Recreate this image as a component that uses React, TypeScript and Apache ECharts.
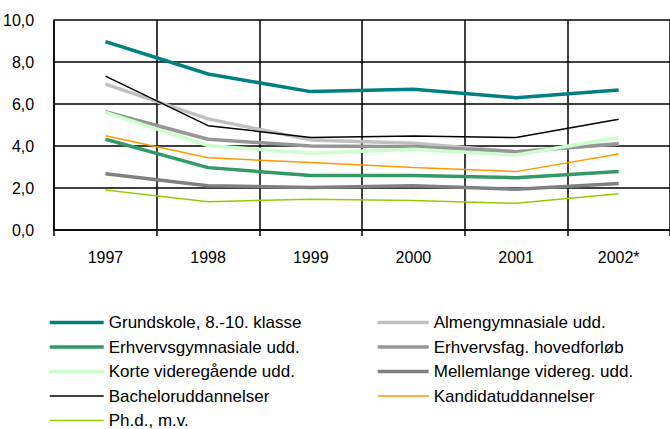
import React, { useEffect, useRef } from "react";
import * as echarts from "echarts";

const years = ["1997", "1998", "1999", "2000", "2001", "2002*"];
const yTicks = [0, 2, 4, 6, 8, 10];

const grundskole = [8.97, 7.43, 6.59, 6.7, 6.3, 6.67];
const almen = [6.95, 5.29, 4.29, 4.13, 3.73, 4.12];
const erhvervsgym = [4.32, 2.97, 2.59, 2.59, 2.49, 2.78];
const erhvervsfag = [5.63, 4.32, 4.0, 3.97, 3.73, 4.1];
const korte = [5.6, 4.02, 3.65, 3.84, 3.57, 4.4];
const mellemlange = [2.68, 2.11, 2.02, 2.11, 1.94, 2.21];
const bachelor = [7.33, 4.97, 4.41, 4.48, 4.4, 5.27];
const kandidat = [4.49, 3.44, 3.21, 2.98, 2.78, 3.62];
const phd = [1.9, 1.35, 1.46, 1.4, 1.27, 1.73];

const seriesDefs = [
  { name: "Grundskole, 8.-10. klasse", data: grundskole, color: "#008080", width: 3.5 },
  { name: "Almengymnasiale udd.", data: almen, color: "#C0C0C0", width: 3.5 },
  { name: "Erhvervsgymnasiale udd.", data: erhvervsgym, color: "#339966", width: 3.5 },
  { name: "Erhvervsfag. hovedforløb", data: erhvervsfag, color: "#969696", width: 3.5 },
  { name: "Korte videregående udd.", data: korte, color: "#CCFFCC", width: 3.5 },
  { name: "Mellemlange videreg. udd.", data: mellemlange, color: "#808080", width: 3.5 },
  { name: "Bacheloruddannelser", data: bachelor, color: "#000000", width: 1.5 },
  { name: "Kandidatuddannelser", data: kandidat, color: "#FF9900", width: 1.5 },
  { name: "Ph.d., m.v.", data: phd, color: "#99CC00", width: 1.5 },
];

const legendItem = (i: number) => ({
  name: seriesDefs[i].name,
  lineStyle: { width: seriesDefs[i].width, color: seriesDefs[i].color },
});
const col1 = [0, 2, 4, 6, 8].map(legendItem);
const col2 = [1, 3, 5, 7].map(legendItem);

export default function App() {
  const ref = useRef<HTMLDivElement>(null);
  useEffect(() => {
    if (!ref.current) return;
    const chart = echarts.init(ref.current, undefined, { renderer: "svg" });
    const font = "Liberation Sans, Arial, sans-serif";
    const legendBase = {
      orient: "vertical" as const,
      top: 314,
      height: 130,
      itemHeight: 2,
      itemGap: 7.5,
      padding: 0,
      itemStyle: { opacity: 0 },
      textStyle: { fontFamily: font, fontSize: 17, color: "#000" },
      selectedMode: false,
    };
    chart.setOption({
      animation: false,
      backgroundColor: "#fff",
      grid: { left: 52, top: 20, width: 625, height: 210, containLabel: false },
      legend: [
        { ...legendBase, left: 48, itemWidth: 54, data: col1 },
        { ...legendBase, left: 376, itemWidth: 51, data: col2 },
      ],
      xAxis: {
        type: "category",
        data: years,
        boundaryGap: true,
        axisLine: { show: true, lineStyle: { color: "#000", width: 1.5 } },
        axisTick: { show: true, length: 6, lineStyle: { color: "#000", width: 1.5 } },
        splitLine: { show: true, lineStyle: { color: "#000", width: 1.5 } },
        axisLabel: { fontFamily: font, fontSize: 16, color: "#000", margin: 19 },
      },
      yAxis: {
        type: "value",
        min: yTicks[0],
        max: yTicks[yTicks.length - 1],
        interval: 2,
        axisLine: { show: true, lineStyle: { color: "#000", width: 1.5 } },
        axisTick: { show: false },
        splitLine: { show: true, lineStyle: { color: "#000", width: 1.5 } },
        axisLabel: {
          fontFamily: font,
          fontSize: 16,
          color: "#000",
          margin: 20,
          formatter: (v: number) => v.toFixed(1).replace(".", ","),
        },
      },
      series: seriesDefs.map((s) => ({
        name: s.name,
        type: "line",
        data: s.data,
        symbol: "none",
        color: s.color,
        lineStyle: { color: s.color, width: s.width },
        itemStyle: { color: s.color },
      })),
    });
    return () => chart.dispose();
  }, []);
  return (
    <div
      ref={ref}
      style={{ position: "fixed", left: 0, top: 0, width: 670, height: 429, background: "#fff" }}
    />
  );
}
